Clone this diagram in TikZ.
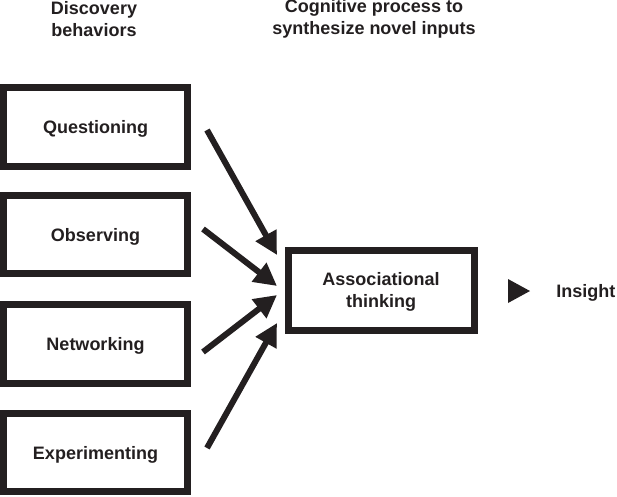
\documentclass[tikz,border=0pt]{standalone}
\usepackage{fontspec}
\setmainfont{Liberation Sans}
\usetikzlibrary{arrows.meta}
\definecolor{ink}{HTML}{231F20}
\begin{document}
\begin{tikzpicture}[x=0.75pt,y=-0.75pt,
  lbl/.style={font=\fontsize{13.5pt}{16.5pt}\selectfont\bfseries, text=ink, align=center, inner sep=0pt},
  boxnode/.style={lbl, draw=ink, line width=5.25pt, minimum width=184*0.75pt, minimum height=79*0.75pt, text depth=0pt},
  arr/.style={draw=ink, line width=4.5pt, -{Triangle[length=17pt,width=17pt]}}]
\useasboundingbox (0,0) rectangle (617,496);
\node[lbl] (h1) at (94,19) {Discovery\\behaviors};
\node[lbl] (h2) at (374,19) {Cognitive process to\\synthesize novel inputs};
\node[boxnode] (q) at (95.5,127) {Questioning};
\node[boxnode, minimum height=78*0.75pt] (o) at (95.5,234.5) {Observing};
\node[boxnode] (n) at (95.5,344) {Networking};
\node[boxnode, minimum height=78*0.75pt] (e) at (95.5,452.5) {Experimenting};
\node[boxnode, minimum width=186*0.75pt, minimum height=80*0.75pt] (a) at (381,290) {Associational\\thinking};
\node[lbl, anchor=west] (ins) at (556,292.5) {Insight};
\coordinate (qs) at (207,130);
\coordinate (qt) at (277,255);
\coordinate (os) at (203,229);
\coordinate (ot) at (277,286);
\coordinate (ns) at (203,352);
\coordinate (nt) at (277,295);
\coordinate (es) at (207,448);
\coordinate (et) at (277,323);
\draw[arr] (qs) -- (qt);
\draw[arr] (os) -- (ot);
\draw[arr] (ns) -- (nt);
\draw[arr] (es) -- (et);
\fill[ink] (508,279) -- (530,291) -- (508,303) -- cycle;
\end{tikzpicture}
\end{document}
